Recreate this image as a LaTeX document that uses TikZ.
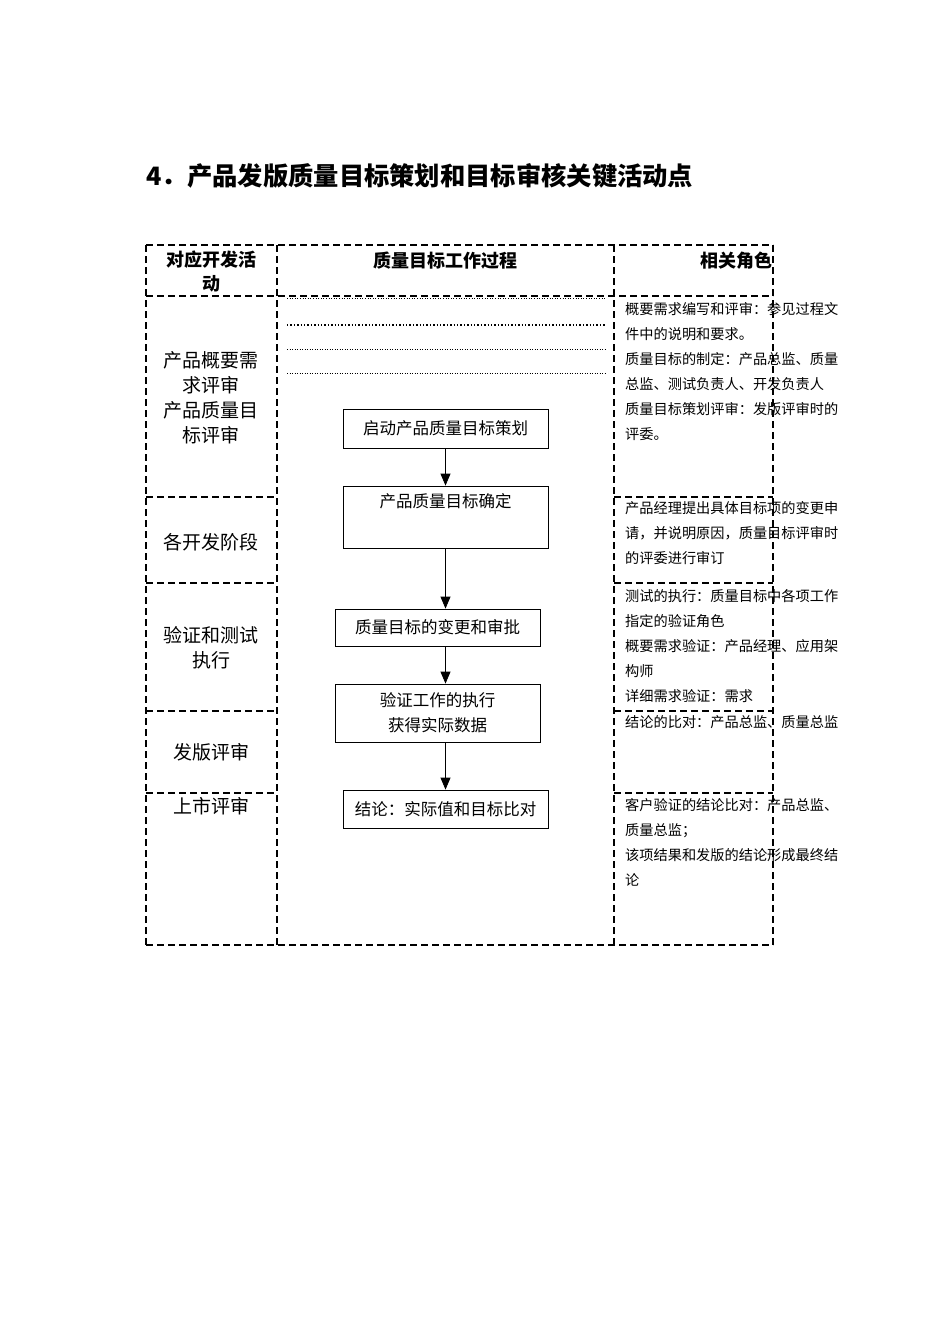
\documentclass[tikz,border=0pt]{standalone}
\usepackage{fontspec}
\setmainfont{Noto Sans CJK SC}
\usetikzlibrary{arrows.meta}
\begin{document}
\begin{tikzpicture}[x=1pt,y=-1pt,
  dline/.style={dashed,dash pattern=on 7pt off 4pt,line width=1.1pt},
  flow/.style={draw,line width=0.8pt,minimum width=205pt,font=\fontsize{16.5}{18}\selectfont},
  arr/.style={-{Triangle[length=12pt,width=10pt]},line width=0.8pt},
  lt/.style={align=center,font=\fontsize{19}{25}\selectfont},
  rt/.style={anchor=north west,align=left,text width=240pt,inner sep=0pt,font=\fontsize{14.2}{25}\selectfont}]
\useasboundingbox (0,0) rectangle (950,1344);
\node[anchor=west,font=\bfseries\fontsize{25.3}{28}\selectfont] (title) at (143,176) {4．产品发版质量目标策划和目标审核关键活动点};
% table lines
\draw[dline] (146,245) -- (773,245);
\draw[dline] (146,296) -- (773,296);
\draw[dline] (146,945) -- (773,945);
\foreach \x in {146,277,614,773} \draw[dline] (\x,245) -- (\x,945);
\foreach \y in {497,583,711,793} {\draw[dline] (146,\y) -- (277,\y); \draw[dline] (614,\y) -- (773,\y);}
\foreach \y/\w in {298/0.6,325/1.4,349/0.5,373/0.5} \draw[dotted,line width=\w pt] (287,\y) -- (605,\y);
% headers
\node[lt,font=\bfseries\fontsize{18}{24}\selectfont] (h1) at (211,272) {对应开发活\\动};
\node[font=\bfseries\fontsize{18}{24}\selectfont] (h2) at (445,261) {质量目标工作过程};
\node[font=\bfseries\fontsize{18}{24}\selectfont] (h3) at (736,261) {相关角色};
% left
\node[lt] (l1) at (211,398) {产品概要需\\求评审\\产品质量目\\标评审};
\node[lt] (l2) at (211,542) {各开发阶段};
\node[lt] (l3) at (211,648) {验证和测试\\执行};
\node[lt] (l4) at (211,752) {发版评审};
\node[lt] (l5) at (211,806) {上市评审};
% right
\node[rt] (r1) at (625,302) {概要需求编写和评审：参见过程文\\件中的说明和要求。\\质量目标的制定：产品总监、质量\\总监、测试负责人、开发负责人\\质量目标策划评审：发版评审时的\\评委。};
\node[rt] (r2) at (625,501) {产品经理提出具体目标项的变更申\\请，并说明原因，质量目标评审时\\的评委进行审订};
\node[rt] (r3) at (625,589) {测试的执行：质量目标中各项工作\\指定的验证角色\\概要需求验证：产品经理、应用架\\构师\\详细需求验证：需求};
\node[rt] (r4) at (625,715) {结论的比对：产品总监、质量总监};
\node[rt] (r5) at (625,798) {客户验证的结论比对：产品总监、\\质量总监；\\该项结果和发版的结论形成最终结\\论};
% flow
\node[flow,minimum height=39pt] (b1) at (445.5,428.5) {启动产品质量目标策划};
\node[flow,minimum height=62pt,text depth=32pt] (b2) at (445.5,517) {产品质量目标确定};
\node[flow,minimum height=37pt] (b3) at (437.5,627.5) {质量目标的变更和审批};
\node[flow,minimum height=58pt,align=center,font=\fontsize{16.5}{25}\selectfont] (b4) at (437.5,713) {验证工作的执行\\获得实际数据};
\node[flow,minimum height=38pt] (b5) at (445.5,809) {结论：实际值和目标比对};
\draw[arr] (b1.south) -- (b2.north);
\draw[arr] (b2.south) -- (b2.south |- b3.north);
\draw[arr] (b3.south -| b2.south) -- (b2.south |- b4.north);
\draw[arr] (b4.south -| b2.south) -- (b5.north);
\end{tikzpicture}
\end{document}
